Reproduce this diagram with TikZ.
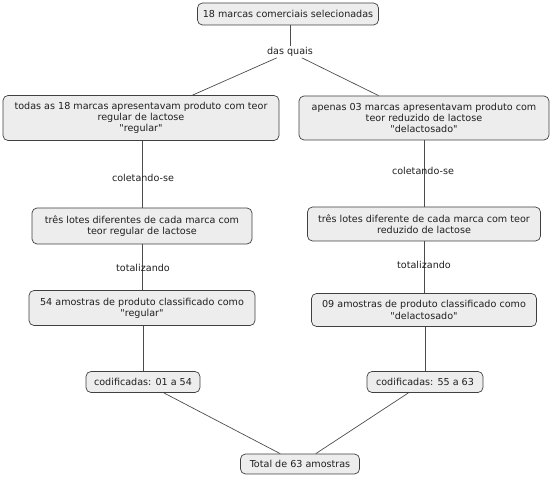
\documentclass[tikz,border=0pt]{standalone}
\usepackage{fontspec}
\setmainfont{DejaVu Sans}
\newcommand{\qq}[1]{\textquotedbl#1\textquotedbl}
\begin{document}
\begin{tikzpicture}[x=1pt,y=-1pt,
  box/.style={rounded corners=5pt, draw=black!75, fill=black!7, line width=0.7pt, text=black!88,
    align=center, inner sep=0pt, font=\fontsize{9.6}{11.2}\selectfont},
  lbl/.style={inner sep=1pt, text=black!88, font=\fontsize{9.6}{11.2}\selectfont},
  conn/.style={draw=black!70, line width=0.7pt}]
\useasboundingbox (0,0) rectangle (550,478);
\node[box, minimum width=181, minimum height=22] (top) at (288,14) {18 marcas comerciais selecionadas};
\node[lbl] (dq) at (290,52) {das quais};
\node[box, minimum width=276, minimum height=45] (b2l) at (141,118) {todas as 18 marcas apresentavam produto com teor\\regular de lactose\\\qq{regular}};
\node[box, minimum width=250, minimum height=44] (b2r) at (424,118) {apenas 03 marcas apresentavam produto com\\teor reduzido de lactose\\\qq{delactosado}};
\node[box, minimum width=220, minimum height=36] (b3l) at (142,226) {três lotes diferentes de cada marca com\\teor regular de lactose};
\node[box, minimum width=233, minimum height=34] (b3r) at (424,224) {três lotes diferente de cada marca com teor\\reduzido de lactose};
\node[box, minimum width=226, minimum height=35] (b4l) at (142,308) {54 amostras de produto classificado como\\\qq{regular}};
\node[box, minimum width=225, minimum height=33] (b4r) at (424,310) {09 amostras de produto classificado como\\\qq{delactosado}};
\node[box, minimum width=114, minimum height=21] (cl) at (143,382) {codificadas: 01 a 54};
\node[box, minimum width=116, minimum height=21] (cr) at (425,382) {codificadas: 55 a 63};
\node[box, minimum width=119, minimum height=20] (tot) at (300,464) {Total de 63 amostras};
\path[conn] (top.south -| dq) -- (dq);
\path[conn] (dq) -- (b2l);
\path[conn] (dq) -- (b2r);
\path[conn] (b2l.south -| b3l) -- (b3l);
\path[conn] (b2r.south -| b3r) -- (b3r);
\path[conn] (b3l) -- (b4l);
\path[conn] (b3r) -- (b4r);
\path[conn] (b4l.south -| cl) -- (cl);
\path[conn] (b4r.south -| cr) -- (cr);
\path[conn] (cl) -- (tot);
\path[conn] (cr) -- (tot);
\node[lbl] (colL) at (143,178) {coletando-se};
\node[lbl] (colR) at (423,171) {coletando-se};
\node[lbl] (totL) at (143,268) {totalizando};
\node[lbl] (totR) at (424,265) {totalizando};
\end{tikzpicture}
\end{document}
